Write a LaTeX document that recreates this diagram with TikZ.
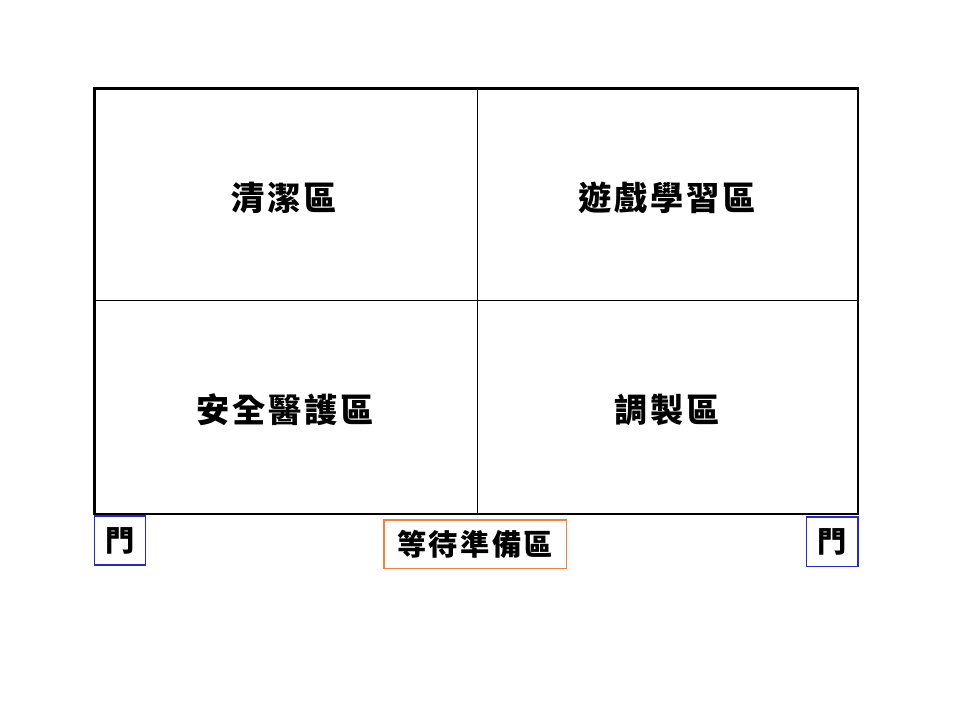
\documentclass[tikz,border=0pt]{standalone}
\usepackage{fontspec}
\setmainfont{Noto Sans CJK TC}
\definecolor{doorblue}{RGB}{40,40,200}
\definecolor{waitorange}{RGB}{240,130,60}
\tikzset{
  zonelabel/.style={draw=none,font=\fontsize{25}{25}\selectfont\bfseries\addfontfeature{LetterSpace=8},inner sep=0pt},
  doorbox/.style={draw=doorblue,line width=0.9pt,minimum width=1.37cm,minimum height=1.3cm,inner sep=0pt,font=\fontsize{22}{22}\selectfont\bfseries},
  waitbox/.style={draw=waitorange,line width=0.9pt,minimum width=4.82cm,minimum height=1.29cm,inner sep=0pt,font=\fontsize{22}{22}\selectfont\bfseries\addfontfeature{LetterSpace=8}}
}
\begin{document}
\begin{tikzpicture}
  \useasboundingbox (0,0) rectangle (25.4,19.05);

  % rooms
  \draw[thin] (12.62,16.72) -- (12.62,5.45);
  \draw[thin] (2.49,11.11) -- (22.70,11.11);
  \draw[line width=2.2pt] (2.49,5.45) rectangle (22.70,16.72);

  \node[zonelabel] (clean) at (7.51,13.81) {清潔區};
  \node[zonelabel] (play) at (17.65,13.81) {遊戲學習區};
  \node[zonelabel] (safe) at (7.54,8.20) {安全醫護區};
  \node[zonelabel] (mix) at (17.65,8.20) {調製區};

  % doors and waiting area
  \node[doorbox] (doorL) at (3.175,4.75) {門};
  \node[doorbox] (doorR) at (22.015,4.72) {門};
  \node[waitbox] (wait) at (12.57,4.645) {等待準備區};
\end{tikzpicture}
\end{document}
